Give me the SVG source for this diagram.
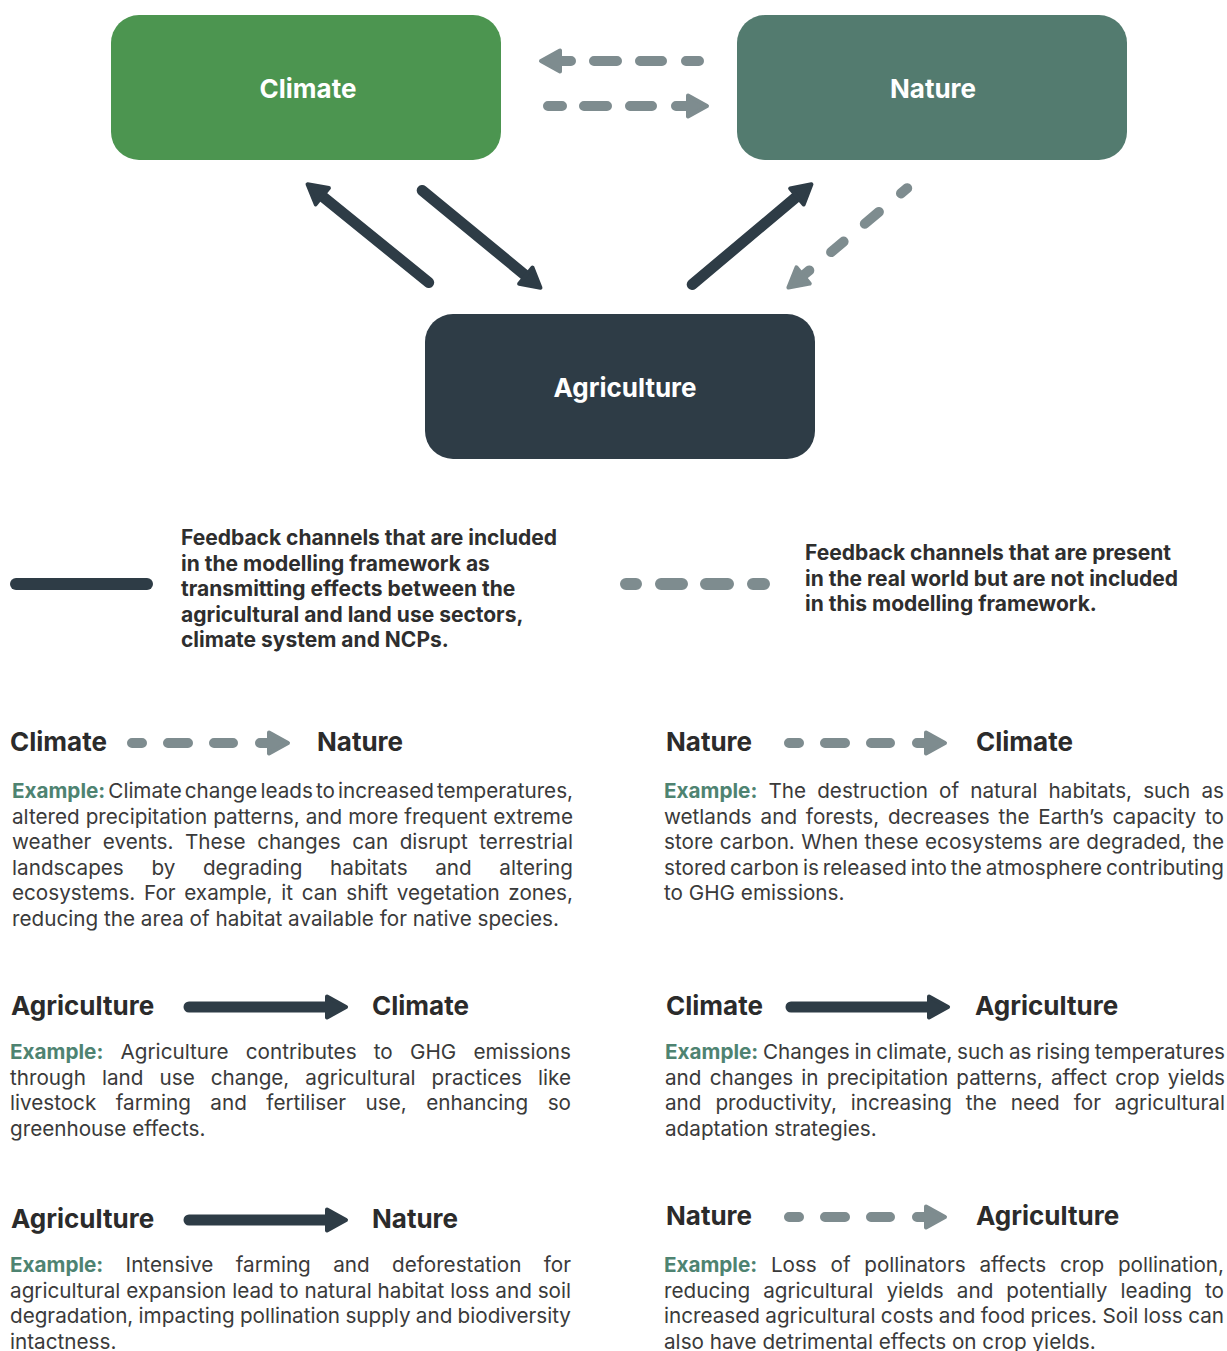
<svg xmlns="http://www.w3.org/2000/svg" width="1227" height="1351" viewBox="0 0 1227 1351">
<style>
.lbl{font-family:Inter,"Noto Sans",sans-serif;font-weight:700;font-size:26px;fill:#ffffff;text-anchor:middle}
.hd{font-family:Inter,"Noto Sans",sans-serif;font-weight:700;font-size:26px;fill:#2b2b2b}
.lg{font-family:Inter,"Noto Sans",sans-serif;font-weight:700;font-size:21px;fill:#2e2e2e}
.p{font-family:Inter,"Noto Sans",sans-serif;font-weight:400;font-size:20.7px;fill:#3a3a3a}
.ex{font-weight:700;fill:#4e8371}
.solid{stroke:#2e3c46;stroke-width:11;stroke-linecap:round;fill:none}
.dash{stroke:#7e8c8f;stroke-width:10;stroke-linecap:round;fill:none}
</style>
<defs>
<marker id="hd" markerUnits="userSpaceOnUse" viewBox="-5 -15 30 30" refX="0" refY="0" markerWidth="30" markerHeight="30" orient="auto">
<path d="M0,-10.5 L19,0 L0,10.5 Z" fill="#2e3c46" stroke="#2e3c46" stroke-width="4" stroke-linejoin="round"/>
</marker>
<marker id="hg" markerUnits="userSpaceOnUse" viewBox="-5 -15 30 30" refX="0" refY="0" markerWidth="30" markerHeight="30" orient="auto">
<path d="M0,-10.5 L19,0 L0,10.5 Z" fill="#7e8c8f" stroke="#7e8c8f" stroke-width="4" stroke-linejoin="round"/>
</marker>
</defs>

<g id="node-climate">
<rect x="111" y="15" width="390" height="145" rx="28" fill="#4c9550"/>
<text class="lbl" x="308" y="98">Climate</text>
</g>
<g id="node-nature">
<rect x="737" y="15" width="390" height="145" rx="28" fill="#537b6f"/>
<text class="lbl" x="933" y="98">Nature</text>
</g>
<g id="node-agriculture">
<rect x="425" y="314" width="390" height="145" rx="28" fill="#2e3c46"/>
<text class="lbl" x="625" y="397">Agriculture</text>
</g>

<g id="connectors">
<path class="dash" d="M699,61 L686,61 M662,61 L640,61 M617,61 L594,61 M571,61 L560,61" marker-end="url(#hg)"/>
<path class="dash" d="M548,106 L562,106 M584,106 L607,106 M630,106 L652,106 M676,106 L688,106" marker-end="url(#hg)"/>
<path class="solid" d="M428.7,282.5 L322.3,196.2" marker-end="url(#hd)"/>
<path class="solid" d="M422.2,190.5 L525.8,275.7" marker-end="url(#hd)"/>
<path class="solid" d="M692.2,284.5 L796.9,196.5" marker-end="url(#hd)"/>
<path class="dash" d="M907.2,188.2 L901,193.4 M878.9,211.9 L864.8,223.8 M843.6,241.6 L831.1,252.1 M809.3,270.4 L803.1,275.5" marker-end="url(#hg)"/>
</g>

<g id="legend">
<line x1="16" y1="584" x2="147" y2="584" stroke="#2e3c46" stroke-width="12" stroke-linecap="round"/>
<text class="lg"><tspan x="181" y="545">Feedback channels that are included</tspan><tspan x="181" y="570.5">in the modelling framework as</tspan><tspan x="181" y="596">transmitting effects between the</tspan><tspan x="181" y="621.5">agricultural and land use sectors,</tspan><tspan x="181" y="647">climate system and NCPs.</tspan></text>
<path d="M626,584 L636,584 M661,584 L682,584 M706,584 L728,584 M753,584 L764,584" stroke="#7e8c8f" stroke-width="12" stroke-linecap="round" fill="none"/>
<text class="lg"><tspan x="805" y="560">Feedback channels that are present</tspan><tspan x="805" y="585.5">in the real world but are not included</tspan><tspan x="805" y="611">in this modelling framework.</tspan></text>
</g>

<g id="sec-climate-nature">
<text class="hd" x="10" y="751">Climate</text>
<path class="dash" d="M132,743 L142,743 M168,743 L188,743 M214,743 L233,743 M260,743 L269,743" marker-end="url(#hg)"/>
<text class="hd" x="317" y="751">Nature</text>
<text class="p" x="12" y="798" textLength="561" lengthAdjust="spacing" style="word-spacing:-2.7px"><tspan class="ex">Example:</tspan> Climate change leads to increased temperatures,</text>
<text class="p" x="12" y="823.5" textLength="561" lengthAdjust="spacing" style="word-spacing:0.2px">altered precipitation patterns, and more frequent extreme</text>
<text class="p" x="12" y="849" textLength="561" lengthAdjust="spacing" style="word-spacing:5.7px">weather events. These changes can disrupt terrestrial</text>
<text class="p" x="12" y="874.5" textLength="561" lengthAdjust="spacing" style="word-spacing:21.8px">landscapes by degrading habitats and altering</text>
<text class="p" x="12" y="900" textLength="561" lengthAdjust="spacing" style="word-spacing:2.9px">ecosystems. For example, it can shift vegetation zones,</text>
<text class="p" x="12" y="925.5">reducing the area of habitat available for native species.</text>
</g>

<g id="sec-nature-climate">
<text class="hd" x="666" y="751">Nature</text>
<path class="dash" d="M789,743 L799,743 M825,743 L845,743 M871,743 L890,743 M917,743 L926,743" marker-end="url(#hg)"/>
<text class="hd" x="976" y="751">Climate</text>
<text class="p" x="664" y="798" textLength="560" lengthAdjust="spacing" style="word-spacing:5.3px"><tspan class="ex">Example:</tspan> The destruction of natural habitats, such as</text>
<text class="p" x="664" y="823.5" textLength="560" lengthAdjust="spacing" style="word-spacing:3px">wetlands and forests, decreases the Earth’s capacity to</text>
<text class="p" x="664" y="849" textLength="560" lengthAdjust="spacing" style="word-spacing:0.6px">store carbon. When these ecosystems are degraded, the</text>
<text class="p" x="664" y="874.5" textLength="560" lengthAdjust="spacing" style="word-spacing:-1.9px">stored carbon is released into the atmosphere contributing</text>
<text class="p" x="664" y="900">to GHG emissions.</text>
</g>

<g id="sec-agriculture-climate">
<text class="hd" x="11" y="1015">Agriculture</text>
<path class="solid" d="M189,1007 L327,1007" marker-end="url(#hd)"/>
<text class="hd" x="372" y="1015">Climate</text>
<text class="p" x="10" y="1059" textLength="561" lengthAdjust="spacing" style="word-spacing:11.4px"><tspan class="ex">Example:</tspan> Agriculture contributes to GHG emissions</text>
<text class="p" x="10" y="1084.5" textLength="561" lengthAdjust="spacing" style="word-spacing:10.2px">through land use change, agricultural practices like</text>
<text class="p" x="10" y="1110" textLength="561" lengthAdjust="spacing" style="word-spacing:13.7px">livestock farming and fertiliser use, enhancing so</text>
<text class="p" x="10" y="1135.5">greenhouse effects.</text>
</g>

<g id="sec-climate-agriculture">
<text class="hd" x="666" y="1015">Climate</text>
<path class="solid" d="M791,1007 L929,1007" marker-end="url(#hd)"/>
<text class="hd" x="975" y="1015">Agriculture</text>
<text class="p" x="665" y="1059" textLength="560" lengthAdjust="spacing" style="word-spacing:-1.1px"><tspan class="ex">Example:</tspan> Changes in climate, such as rising temperatures</text>
<text class="p" x="665" y="1084.5" textLength="560" lengthAdjust="spacing" style="word-spacing:2.4px">and changes in precipitation patterns, affect crop yields</text>
<text class="p" x="665" y="1110" textLength="560" lengthAdjust="spacing" style="word-spacing:8.1px">and productivity, increasing the need for agricultural</text>
<text class="p" x="665" y="1135.5">adaptation strategies.</text>
</g>

<g id="sec-agriculture-nature">
<text class="hd" x="11" y="1228">Agriculture</text>
<path class="solid" d="M189,1220 L327,1220" marker-end="url(#hd)"/>
<text class="hd" x="372" y="1228">Nature</text>
<text class="p" x="10" y="1272" textLength="561" lengthAdjust="spacing" style="word-spacing:16.6px"><tspan class="ex">Example:</tspan> Intensive farming and deforestation for</text>
<text class="p" x="10" y="1297.5" textLength="561" lengthAdjust="spacing" style="word-spacing:0px">agricultural expansion lead to natural habitat loss and soil</text>
<text class="p" x="10" y="1323" textLength="561" lengthAdjust="spacing" style="word-spacing:-0.5px">degradation, impacting pollination supply and biodiversity</text>
<text class="p" x="10" y="1348.5">intactness.</text>
</g>

<g id="sec-nature-agriculture">
<text class="hd" x="666" y="1225">Nature</text>
<path class="dash" d="M789,1217 L799,1217 M825,1217 L845,1217 M871,1217 L890,1217 M917,1217 L926,1217" marker-end="url(#hg)"/>
<text class="hd" x="976" y="1225">Agriculture</text>
<text class="p" x="664" y="1272" textLength="560" lengthAdjust="spacing" style="word-spacing:8px"><tspan class="ex">Example:</tspan> Loss of pollinators affects crop pollination,</text>
<text class="p" x="664" y="1297.5" textLength="560" lengthAdjust="spacing" style="word-spacing:7.25px">reducing agricultural yields and potentially leading to</text>
<text class="p" x="664" y="1323" textLength="560" lengthAdjust="spacing" style="word-spacing:-0.4px">increased agricultural costs and food prices. Soil loss can</text>
<text class="p" x="664" y="1348.5">also have detrimental effects on crop yields.</text>
</g>
</svg>
